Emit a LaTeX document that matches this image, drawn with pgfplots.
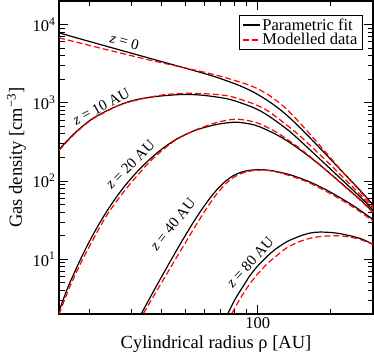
\documentclass[border=0pt]{standalone}
\usepackage{fontspec}
\setmainfont{Liberation Serif}
\usepackage{pgfplots}
\pgfplotsset{compat=1.18}
\usetikzlibrary{calc}
\begin{document}
\begin{tikzpicture}
\begin{axis}[
  name=ax,
  xmode=log, ymode=log,
  scale only axis, width=314pt, height=313pt,
  xmin=15, xmax=300, ymin=2, ymax=20000,
  xtick={100}, xticklabels={100},
  minor xtick={20,30,40,50,60,70,80,90,200,300},
  ytick={10,100,1000,10000},
  yticklabels={10\textsuperscript{1},10\textsuperscript{2},10\textsuperscript{3},10\textsuperscript{4}},
  minor ytick={2,3,4,5,6,7,8,9,20,30,40,50,60,70,80,90,200,300,400,500,600,700,800,900,2000,3000,4000,5000,6000,7000,8000,9000,20000},
  tick align=inside, major tick length=9pt, minor tick length=5.5pt,
  every tick/.style={black, line width=0.9pt},
  axis line style={line width=1.1pt},
  ticklabel style={font=\fontsize{16.5}{16.5}\selectfont},
  xlabel={Cylindrical radius ρ [AU]},
  ylabel={Gas density [cm\textsuperscript{−3}]},
  label style={font=\fontsize{18.5}{18.5}\selectfont},
  legend style={at={(0.967,0.955)}, anchor=north east, draw=black, line width=0.6pt,
    font=\fontsize{16.5}{17}\selectfont, inner xsep=3pt, inner ysep=1pt, row sep=-2pt,
    cells={anchor=west}},
]
% z = 0
\addplot[black, line width=1.2pt, smooth] coordinates {(15,7834)(22.03,5603)(35.58,3712)(57.5,2459)(69.66,2049)(84.37,1649)(97.45,1334)(112.5,1015)(130,721.5)(150.1,475.3)(173.3,302)(200.1,189.8)(231.1,119.0)(266.9,74.5)(300,49.7)};
\addlegendentry{Parametric fit}
\addplot[red, line width=1.2pt, dash pattern=on 6pt off 3pt, smooth] coordinates {(15,6763)(22.03,5039)(35.58,3521)(57.5,2533)(69.66,2193)(84.37,1838)(97.45,1564)(112.5,1221)(130,858.3)(150.1,544)(173.3,330)(200.1,197.2)(231.1,118)(266.9,72.6)(300,47.4)};
\addlegendentry{Modelled data}
% z = 10
\addplot[black, line width=1.2pt, smooth, forget plot] coordinates {(15,253)(17.49,414)(20.40,612)(24.25,821)(28.27,1000)(32.33,1118)(38.80,1214)(48.37,1276)(57.5,1258)(69.66,1169)(78.90,1076)(95.59,871)(109.3,698.6)(132.5,456)(150.1,325.2)(173.3,215.4)(200.1,142.3)(231.1,93.7)(266.9,61.7)(300,42.7)};
\addplot[red, line width=1.2pt, dash pattern=on 6pt off 3pt, smooth, forget plot] coordinates {(15,246)(17.49,406)(20.40,603)(24.25,809)(28.27,994)(38.80,1239)(48.37,1315)(57.5,1315)(69.66,1265)(78.90,1183)(95.59,973.9)(109.3,797.4)(132.5,513)(150.1,371.2)(173.3,246)(200.1,160.6)(231.1,103.3)(266.9,66.45)(300,44.7)};
% z = 20
\addplot[black, line width=1.2pt, smooth, forget plot] coordinates {(15,2.16)(16.20,4.13)(17.49,7.09)(18.89,11.76)(20.40,18.71)(22.03,28.57)(24.01,44.02)(26.18,64.91)(28.27,88.6)(31.42,129)(35.58,188.7)(40.31,260.8)(45.66,338.8)(52.23,416.3)(57.5,465.5)(67.68,529.9)(80.43,565.1)(92.88,536.0)(102.2,490.9)(118.0,399.5)(132.5,325.2)(150.1,249.6)(173.3,178.0)(200.1,123.2)(231.1,84.1)(266.9,57.0)(300,40.4)};
\addplot[red, line width=1.2pt, dash pattern=on 6pt off 3pt, smooth, forget plot] coordinates {(15,1.98)(16.20,3.67)(17.49,6.30)(18.89,10.30)(20.40,16.15)(22.03,25.03)(24.01,39.14)(26.18,56.85)(28.27,77.65)(31.42,114.5)(35.58,175.4)(40.31,249.6)(45.66,333.9)(52.23,416.3)(57.5,472.4)(67.68,561.8)(80.43,617.3)(92.88,585.5)(102.2,536.0)(118.0,430.0)(132.5,340)(150.1,257.0)(173.3,180.6)(200.1,123.2)(231.1,82.8)(266.9,56.2)(300,39.3)};
% z = 40
\addplot[black, line width=1.2pt, smooth, forget plot] coordinates {(32.96,2.04)(35.58,3.15)(38.80,5.11)(41.90,7.81)(45.66,12.43)(49.31,18.66)(53.24,27.58)(57.50,39.84)(62.69,58.03)(67.68,77.65)(73.09,98.2)(78.90,116.5)(85.19,129.5)(92.88,137.4)(104.2,139.8)(118.0,133.4)(136.3,120.0)(160.5,100.3)(187.1,80.44)(220.3,60.84)(259.3,44.41)(300,32.23)};
\addplot[red, line width=1.2pt, dash pattern=on 6pt off 3pt, smooth, forget plot] coordinates {(33.60,2.04)(35.58,2.76)(38.80,4.34)(41.90,6.47)(45.66,10.12)(49.31,15.01)(53.24,22.26)(57.50,32.81)(62.69,49.53)(67.68,68.83)(73.09,90.23)(78.90,110.2)(85.19,124.7)(92.88,134.2)(104.2,138.2)(118.0,131.9)(136.3,116.5)(160.5,97.4)(187.1,76.97)(220.3,58.2)(259.3,42.5)(300,30.84)};
% z = 80
\addplot[black, line width=1.2pt, smooth, forget plot] coordinates {(75.2,2.04)(80.43,3.08)(86.83,4.51)(92.88,6.23)(100.3,8.36)(109.3,10.9)(118.0,13.4)(132.5,16.9)(150.1,19.9)(165.2,21.7)(181.8,22.3)(209.9,21.7)(242.5,19.9)(272.1,17.96)(300,15.5)};
\addplot[red, line width=1.2pt, dash pattern=on 6pt off 3pt, smooth, forget plot] coordinates {(78.15,2.04)(84.37,3.12)(92.88,4.92)(100.3,6.60)(109.3,8.74)(118.0,10.73)(132.5,14.19)(150.1,17.02)(165.2,18.60)(187.1,19.72)(220.3,19.9)(259.3,18.33)(300,15.5)};
% curve labels
\node[rotate=-15, font=\fontsize{15}{15}\selectfont] at (axis cs:28.0,6065) {\textit{z} = 0};
\node[rotate=28, font=\fontsize{15}{15}\selectfont] at (axis cs:22.45,897) {\textit{z} = 10 AU};
\node[rotate=45, font=\fontsize{15}{15}\selectfont] at (axis cs:29.6,163) {\textit{z} = 20 AU};
\node[rotate=51, font=\fontsize{15}{15}\selectfont] at (axis cs:44.4,27.9) {\textit{z} = 40 AU};
\node[rotate=48, font=\fontsize{15}{15}\selectfont] at (axis cs:92.9,9.27) {\textit{z} = 80 AU};
\end{axis}
\pgfresetboundingbox
\path[use as bounding box] ($(ax.south west)+(-59pt,-41pt)$) rectangle ($(ax.north east)+(1pt,1pt)$);
\end{tikzpicture}
\end{document}
